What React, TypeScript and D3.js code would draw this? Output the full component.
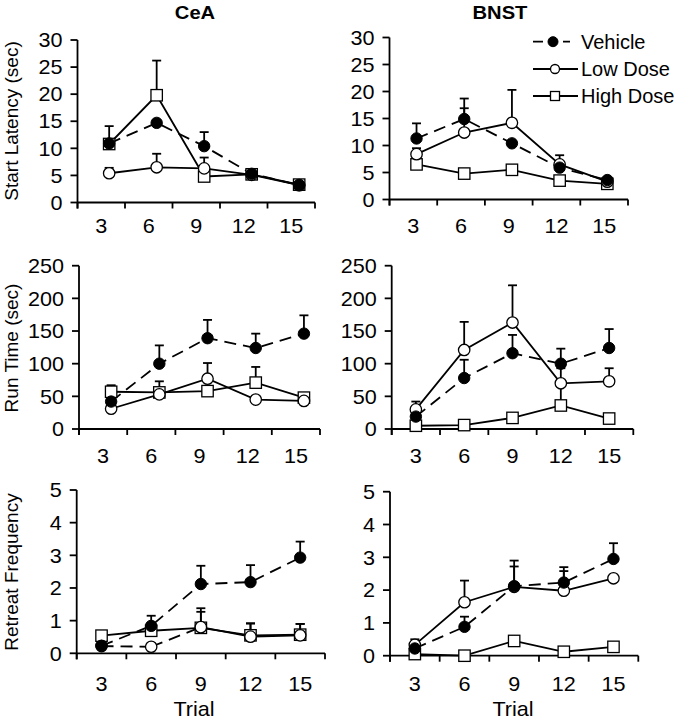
import React from 'react';
import * as d3 from 'd3';

// ---------- DATA ----------
const trials = [3, 6, 9, 12, 15];
const seriesNames = ['Vehicle', 'Low Dose', 'High Dose'];
const regionTitles = ['CeA', 'BNST'];
const measureLabels = ['Start Latency (sec)', 'Run Time (sec)', 'Retreat Frequency'];
const latencyTicks = [0, 5, 10, 15, 20, 25, 30];
const runTimeTicks = [0, 50, 100, 150, 200, 250];
const retreatTicks = [0, 1, 2, 3, 4, 5];

// CeA – Start Latency
const ceaLatVehicle = [10.9, 14.7, 10.4, 5.3, 3.2];
const ceaLatVehicleSem = [3.2, 0, 2.6, 0, 0];
const ceaLatLow = [5.4, 6.5, 6.3, 5.1, 3.2];
const ceaLatLowSem = [1.0, 2.5, 2.0, 0, 0];
const ceaLatHigh = [10.8, 19.8, 4.8, 5.2, 3.3];
const ceaLatHighSem = [0, 6.4, 0, 0, 0];

// BNST – Start Latency
const bnstLatVehicle = [11.3, 14.9, 10.4, 5.9, 3.6];
const bnstLatVehicleSem = [2.8, 3.8, 0, 0, 0];
const bnstLatLow = [8.4, 12.4, 14.2, 6.5, 3.3];
const bnstLatLowSem = [1.1, 4.5, 6.1, 1.7, 0];
const bnstLatHigh = [6.5, 4.8, 5.5, 3.5, 2.9];
const bnstLatHighSem = [1.0, 0, 0.9, 0, 0];

// CeA – Run Time
const ceaRunVehicle = [42, 100, 139, 124, 146];
const ceaRunVehicleSem = [0, 28, 28, 22, 28];
const ceaRunLow = [31, 53, 77, 45, 43];
const ceaRunLowSem = [0, 0, 24, 0, 0];
const ceaRunHigh = [57, 56, 58, 71, 48];
const ceaRunHighSem = [10, 17, 0, 24, 4];

// BNST – Run Time
const bnstRunVehicle = [19, 78, 116, 100, 124];
const bnstRunVehicleSem = [23, 28, 28, 23, 29];
const bnstRunLow = [30, 121, 163, 70, 73];
const bnstRunLowSem = [0, 43, 57, 23, 20];
const bnstRunHigh = [5, 6, 17, 36, 16];
const bnstRunHighSem = [0, 0, 3, 30, 0];

// CeA – Retreat Frequency
const ceaRetVehicle = [0.23, 0.84, 2.12, 2.18, 2.93];
const ceaRetVehicleSem = [0, 0.31, 0.56, 0.52, 0.49];
const ceaRetLow = [0.22, 0.2, 0.8, 0.51, 0.55];
const ceaRetLowSem = [0, 0, 0.58, 0.4, 0.35];
const ceaRetHigh = [0.54, 0.69, 0.78, 0.55, 0.57];
const ceaRetHighSem = [0.11, 0, 0.49, 0.37, 0.33];

// BNST – Retreat Frequency
const bnstRetVehicle = [0.22, 0.88, 2.12, 2.23, 2.95];
const bnstRetVehicleSem = [0.2, 0.31, 0.6, 0.35, 0.48];
const bnstRetLow = [0.33, 1.63, 2.1, 1.98, 2.36];
const bnstRetLowSem = [0.17, 0.66, 0.8, 0.72, 0];
const bnstRetHigh = [0.05, 0.0, 0.45, 0.12, 0.27];
const bnstRetHighSem = [0, 0, 0.12, 0, 0];

// ---------- LAYOUT ----------
const FONT = 'Liberation Sans, Arial, Helvetica, sans-serif';
const rowLabelBaseline = [233, 463, 691];
const STRETCH = 1.08;

type Series = { mean: number[]; sem: number[]; dashedSegs?: number[] };
type Panel = {
  row: number; col: number;
  x0: number; x1: number; y0: number; yTop: number;
  offset: number; ticks: number[];
  series: Series[];
};

const panels: Panel[] = [
  { row: 0, col: 0, x0: 77.5, x1: 315, y0: 202.5, yTop: 40, offset: 0.5, ticks: latencyTicks,
    series: [
      { mean: ceaLatVehicle, sem: ceaLatVehicleSem },
      { mean: ceaLatLow, sem: ceaLatLowSem },
      { mean: ceaLatHigh, sem: ceaLatHighSem }] },
  { row: 0, col: 1, x0: 389.5, x1: 628, y0: 199.5, yTop: 37.5, offset: 0.2, ticks: latencyTicks,
    series: [
      { mean: bnstLatVehicle, sem: bnstLatVehicleSem },
      { mean: bnstLatLow, sem: bnstLatLowSem },
      { mean: bnstLatHigh, sem: bnstLatHighSem }] },
  { row: 1, col: 0, x0: 79, x1: 320, y0: 429, yTop: 265.7, offset: 0.5, ticks: runTimeTicks,
    series: [
      { mean: ceaRunVehicle, sem: ceaRunVehicleSem },
      { mean: ceaRunLow, sem: ceaRunLowSem },
      { mean: ceaRunHigh, sem: ceaRunHighSem }] },
  { row: 1, col: 1, x0: 391.7, x1: 633.3, y0: 429, yTop: 265.7, offset: 0, ticks: runTimeTicks,
    series: [
      { mean: bnstRunVehicle, sem: bnstRunVehicleSem },
      { mean: bnstRunLow, sem: bnstRunLowSem },
      { mean: bnstRunHigh, sem: bnstRunHighSem }] },
  { row: 2, col: 0, x0: 76.7, x1: 325, y0: 653.3, yTop: 490, offset: 0, ticks: retreatTicks,
    series: [
      { mean: ceaRetVehicle, sem: ceaRetVehicleSem },
      { mean: ceaRetLow, sem: ceaRetLowSem, dashedSegs: [0, 1] },
      { mean: ceaRetHigh, sem: ceaRetHighSem }] },
  { row: 2, col: 1, x0: 390, x1: 638.3, y0: 655.7, yTop: 491.7, offset: 0, ticks: retreatTicks,
    series: [
      { mean: bnstRetVehicle, sem: bnstRetVehicleSem },
      { mean: bnstRetLow, sem: bnstRetLowSem },
      { mean: bnstRetHigh, sem: bnstRetHighSem }] },
];

const DASH = '12,7';
const SW = 1.8;
const R = 5.7;

function T({ x, y, children, anchor = 'start', size = 20, bold = false, dy, sx = STRETCH }:
  { x: number; y: number; children: React.ReactNode; anchor?: string; size?: number; bold?: boolean; dy?: string; sx?: number }) {
  return (
    <text transform={`translate(${x},${y}) scale(${sx},1)`} textAnchor={anchor as any} dy={dy}
      fontSize={size} fontWeight={bold ? 'bold' : 'normal'} fontFamily={FONT} fill="#000">{children}</text>
  );
}

function Marker({ kind, x, y, r = R }: { kind: number; x: number; y: number; r?: number }) {
  if (kind === 0) return <circle cx={x} cy={y} r={r} fill="#000" stroke="#000" strokeWidth={1} />;
  if (kind === 1) return <circle cx={x} cy={y} r={r} fill="#fff" stroke="#000" strokeWidth={1.3} />;
  return <rect x={x - r} y={y - r} width={2 * r} height={2 * r} fill="#fff" stroke="#000" strokeWidth={1.3} />;
}

function PanelView({ p }: { p: Panel }) {
  const bounds = d3.range(1.5, 17, 3);
  const x = d3.scaleLinear().domain([1.5, 16.5]).range([p.x0, p.x1]);
  const yMax = p.ticks[p.ticks.length - 1];
  const y = d3.scaleLinear().domain([0, yMax]).range([p.y0, p.yTop]);
  const line = d3.line<[number, number]>().x(d => d[0]).y(d => d[1]);
  const order = [2, 1, 0];
  const cx = (i: number) => x(trials[i] + p.offset);
  return (
    <g>
      {/* axes */}
      <line x1={p.x0} x2={p.x0} y1={y(0) + 6} y2={y(yMax)} stroke="#000" strokeWidth={SW} />
      <line x1={p.x0} x2={p.x1} y1={y(0)} y2={y(0)} stroke="#000" strokeWidth={SW} />
      {p.ticks.map(t => (
        <g key={'yt' + t}>
          <line x1={p.x0 - 7} x2={p.x0} y1={y(t)} y2={y(t)} stroke="#000" strokeWidth={SW} />
          <T x={p.x0 - 15} y={y(t)} dy="0.36em" anchor="end">{t}</T>
        </g>
      ))}
      {bounds.map(b => (
        <line key={'xt' + b} x1={x(b)} x2={x(b)} y1={y(0)} y2={y(0) + 6} stroke="#000" strokeWidth={SW} />
      ))}
      {trials.map(t => (
        <T key={'xl' + t} x={x(t)} y={rowLabelBaseline[p.row]} anchor="middle">{t}</T>
      ))}
      {/* lines */}
      {order.map(k => {
        const s = p.series[k];
        const pts: [number, number][] = s.mean.map((v, i) => [cx(i), y(v)]);
        if (s.dashedSegs) {
          return (
            <g key={'ln' + k}>
              {pts.slice(0, -1).map((pt, i) => (
                <path key={i} d={line([pt, pts[i + 1]]) || ''} fill="none" stroke="#000" strokeWidth={SW}
                  strokeDasharray={s.dashedSegs!.includes(i) ? DASH : undefined} />
              ))}
            </g>
          );
        }
        return <path key={'ln' + k} d={line(pts) || ''} fill="none" stroke="#000" strokeWidth={SW}
          strokeDasharray={k === 0 ? DASH : undefined} />;
      })}
      {/* error bars */}
      {order.map(k => {
        const s = p.series[k];
        return (
          <g key={'eb' + k}>
            {s.mean.map((v, i) => s.sem[i] > 0 ? (
              <g key={i}>
                <line x1={cx(i)} x2={cx(i)} y1={y(v)} y2={y(v + s.sem[i])} stroke="#000" strokeWidth={SW} />
                <line x1={cx(i) - 4.5} x2={cx(i) + 4.5} y1={y(v + s.sem[i])} y2={y(v + s.sem[i])} stroke="#000" strokeWidth={SW} />
              </g>
            ) : null)}
          </g>
        );
      })}
      {/* markers */}
      {order.map(k => (
        <g key={'mk' + k}>
          {p.series[k].mean.map((v, i) => <Marker key={i} kind={k} x={cx(i)} y={y(v)} />)}
        </g>
      ))}
    </g>
  );
}

export default function App() {
  const legendRows = [41.7, 69, 96];
  const titleX = [195, 500];
  const labelCy = [121, 348, 572];
  const trialX = [194, 513];
  return (
    <svg width={681} height={720} style={{ position: 'absolute', left: 0, top: 0, background: '#fff' }}
      xmlns="http://www.w3.org/2000/svg">
      <rect width={681} height={720} fill="#fff" />
      {regionTitles.map((t, i) => (
        <T key={t} x={titleX[i]} y={18.5} anchor="middle" size={18} bold sx={1.12}>{t}</T>
      ))}
      {measureLabels.map((t, i) => (
        <text key={t} transform={`translate(18,${labelCy[i]}) rotate(-90)`} textAnchor="middle" fontSize={19} fontFamily={FONT}>{t}</text>
      ))}
      {trialX.map((tx, i) => (
        <T key={'trial' + i} x={tx} y={716} anchor="middle">Trial</T>
      ))}
      {panels.map((p, i) => <PanelView key={i} p={p} />)}
      {/* legend */}
      {seriesNames.map((name, k) => (
        <g key={name}>
          <line x1={533} x2={k === 0 ? 570 : 578} y1={legendRows[k]} y2={legendRows[k]} stroke="#000" strokeWidth={SW}
            strokeDasharray={k === 0 ? '10,5' : undefined} />
          <Marker kind={k} x={k === 0 ? 553 : 555} y={legendRows[k]} r={k === 0 ? 5 : 4.5} />
          <T x={581} y={legendRows[k]} dy="0.36em" sx={1}>{name}</T>
        </g>
      ))}
    </svg>
  );
}
